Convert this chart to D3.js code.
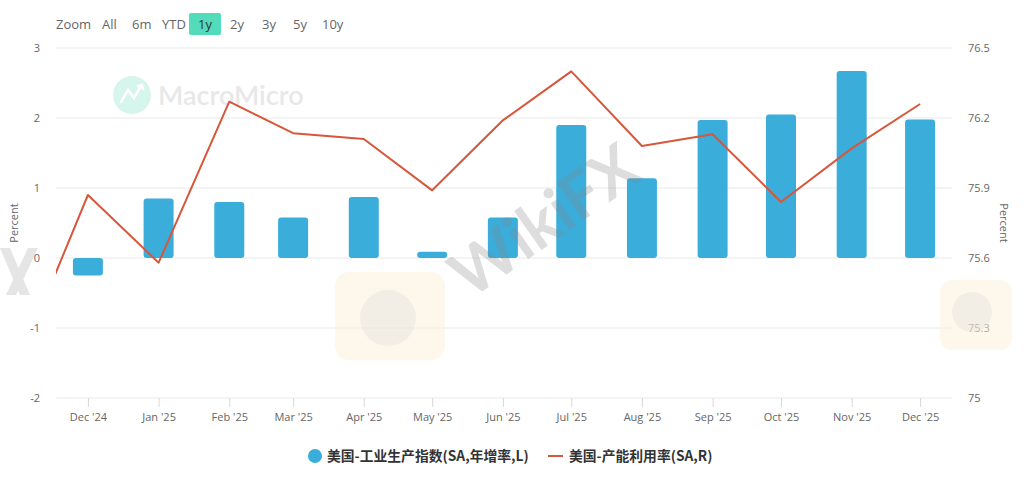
<!DOCTYPE html>
<html>
<head>
<meta charset="utf-8">
<script src="https://cdn.jsdelivr.net/npm/d3@7/dist/d3.min.js"></script>
<style>
  html, body { margin: 0; padding: 0; background: #fff; }
  svg { display: block; font-family: "Open Sans", "Noto Sans", sans-serif; }
</style>
</head>
<body>
<svg id="chart" width="1024" height="478"></svg>
<script>
// ---- data ----
const barMonths = ["2024-12","2025-01","2025-02","2025-03","2025-04","2025-05","2025-06","2025-07","2025-08","2025-09","2025-10","2025-11","2025-12"];
const ipYoY = [-0.25, 0.85, 0.80, 0.58, 0.87, 0.09, 0.58, 1.90, 1.14, 1.97, 2.05, 2.67, 1.98];
const lineMonths = ["2024-11","2024-12","2025-01","2025-02","2025-03","2025-04","2025-05","2025-06","2025-07","2025-08","2025-09","2025-10","2025-11","2025-12"];
const capUtil = [75.16, 75.87, 75.58, 76.27, 76.135, 76.11, 75.89, 76.19, 76.40, 76.08, 76.13, 75.84, 76.07, 76.26];
const leftTicks = [-2, -1, 0, 1, 2, 3];
const rightTicks = [75, 75.3, 75.6, 75.9, 76.2, 76.5];
const rangeButtons = ["All", "6m", "YTD", "1y", "2y", "3y", "5y", "10y"];
const seriesNames = ["美国-工业生产指数(SA,年增率,L)", "美国-产能利用率(SA,R)"];

const barColor = "#3aaddb";
const lineColor = "#d6573b";

const svg = d3.select("#chart");
const parse = d3.utcParse("%Y-%m");
const L = 56, R = 952, T = 48, B = 398;

const x = d3.scaleUtc().domain([new Date(Date.UTC(2024,10,17)), new Date(Date.UTC(2025,11,15))]).range([L, R]);
const yL = d3.scaleLinear().domain([-2, 3]).range([B, T]);
const yR = d3.scaleLinear().domain([75, 76.5]).range([B, T]);

// ---- watermark (MacroMicro) ----
const wm = svg.append("g");
wm.append("circle").attr("cx", 132).attr("cy", 95).attr("r", 19).attr("fill", "#d6f5ec");
wm.append("path").attr("d", "M121,102 L128,90 L134,98 L141,86 M138,86 L142,85 L143,89")
  .attr("fill", "none").attr("stroke", "#fff").attr("stroke-width", 2.5).attr("stroke-linecap", "round");
wm.append("text").attr("x", 158).attr("y", 105).attr("font-size", 27).attr("font-weight", 600)
  .attr("fill", "#e8e8e8").attr("font-family", "Lato, 'Open Sans', sans-serif").text("MacroMicro");

// ---- range selector ----
const rs = svg.append("g").attr("font-size", 13).attr("fill", "#666");
rs.append("text").attr("x", 56).attr("y", 29).text("Zoom");
const btnX = [102, 132, 162, 198, 230, 262, 293, 322];
rangeButtons.forEach((b, i) => {
  if (b === "1y") {
    rs.append("rect").attr("x", 189).attr("y", 13).attr("width", 32).attr("height", 22).attr("rx", 2).attr("fill", "#52dcbb");
    rs.append("text").attr("x", 205).attr("y", 29).attr("text-anchor", "middle").attr("fill", "#333").text(b);
  } else {
    rs.append("text").attr("x", btnX[i]).attr("y", 29).text(b);
  }
});

// ---- gridlines ----
svg.append("g").selectAll("line").data(leftTicks).join("line")
  .attr("x1", L).attr("x2", R).attr("y1", d => yL(d)).attr("y2", d => yL(d))
  .attr("stroke", "#e9e9e9").attr("stroke-width", 1);

// left axis labels
svg.append("g").selectAll("text").data(leftTicks).join("text")
  .attr("x", 40).attr("y", d => yL(d) + 4).attr("text-anchor", "end")
  .attr("font-size", 11).attr("fill", "#666").text(d => d);
svg.append("text").attr("transform", `translate(18,223) rotate(-90)`).attr("text-anchor", "middle")
  .attr("font-size", 11).attr("fill", "#666").text("Percent");

// right axis labels
svg.append("g").selectAll("text").data(rightTicks).join("text")
  .attr("x", 968).attr("y", d => yR(d) + 4).attr("text-anchor", "start")
  .attr("font-size", 11).attr("fill", "#666").text(d => d);
svg.append("text").attr("transform", `translate(1000,223) rotate(90)`).attr("text-anchor", "middle")
  .attr("font-size", 11).attr("fill", "#666").text("Percent");

// x axis
const xAxis = d3.axisBottom(x).tickValues(barMonths.map(parse)).tickSize(9).tickPadding(6)
  .tickFormat(d3.utcFormat("%b '%y"));
const gx = svg.append("g").attr("transform", `translate(0,${B})`).call(xAxis);
gx.select(".domain").remove();
gx.selectAll(".tick line").attr("stroke", "#d8d8d8");
gx.selectAll(".tick text").attr("font-size", 11).attr("fill", "#666").attr("font-family", "'Open Sans', sans-serif");

// ---- bars ----
const bw = 30;
svg.append("g").selectAll("rect").data(barMonths.map((m, i) => ({ d: parse(m), v: ipYoY[i] }))).join("rect")
  .attr("x", d => x(d.d) - bw / 2).attr("width", bw)
  .attr("y", d => Math.min(yL(d.v), yL(0)))
  .attr("height", d => Math.abs(yL(d.v) - yL(0)))
  .attr("rx", 3).attr("fill", barColor);

// ---- line ----
svg.append("clipPath").attr("id", "plotclip").append("rect")
  .attr("x", L).attr("y", T - 10).attr("width", R - L).attr("height", B - T + 20);
const line = d3.line().x(d => x(d.d)).y(d => yR(d.v));
svg.append("path").datum(lineMonths.map((m, i) => ({ d: parse(m), v: capUtil[i] })))
  .attr("clip-path", "url(#plotclip)")
  .attr("d", line).attr("fill", "none").attr("stroke", lineColor).attr("stroke-width", 2)
  .attr("stroke-linejoin", "round");

// ---- WikiFX watermark (faint, decorative shapes) ----
const wf = svg.append("g").attr("pointer-events", "none");
wf.append("rect").attr("x", 335).attr("y", 272).attr("width", 110).attr("height", 88).attr("rx", 14)
  .attr("fill", "#fbf1d8").attr("opacity", 0.5);
wf.append("circle").attr("cx", 388).attr("cy", 318).attr("r", 28).attr("fill", "#ddd").attr("opacity", 0.35);
wf.append("rect").attr("x", 940).attr("y", 280).attr("width", 72).attr("height", 70).attr("rx", 12)
  .attr("fill", "#fbf1d8").attr("opacity", 0.5);
wf.append("circle").attr("cx", 972).attr("cy", 312).attr("r", 20).attr("fill", "#ddd").attr("opacity", 0.35);
wf.append("text").attr("transform", "translate(470,300) rotate(-35)")
  .attr("font-size", 64).attr("font-weight", 700).attr("fill", "#888").attr("opacity", 0.28)
  .attr("font-family", "Lato, sans-serif").text("WikiFX");
wf.append("path").attr("d", "M0,248 L10,248 L30,295 L20,295 Z M28,248 L38,248 L16,295 L6,295 Z")
  .attr("fill", "#999").attr("opacity", 0.25);

// ---- legend ----
const lg = svg.append("g").attr("font-size", 13.8).attr("font-weight", 700).attr("fill", "#333")
  .attr("font-family", "'Noto Sans CJK SC', 'Open Sans', sans-serif");
lg.append("circle").attr("cx", 315).attr("cy", 456).attr("r", 7).attr("fill", barColor);
lg.append("text").attr("x", 327).attr("y", 461).text(seriesNames[0]);
lg.append("line").attr("x1", 548).attr("x2", 563).attr("y1", 456).attr("y2", 456)
  .attr("stroke", lineColor).attr("stroke-width", 2);
lg.append("text").attr("x", 569).attr("y", 461).text(seriesNames[1]);
</script>
</body>
</html>
